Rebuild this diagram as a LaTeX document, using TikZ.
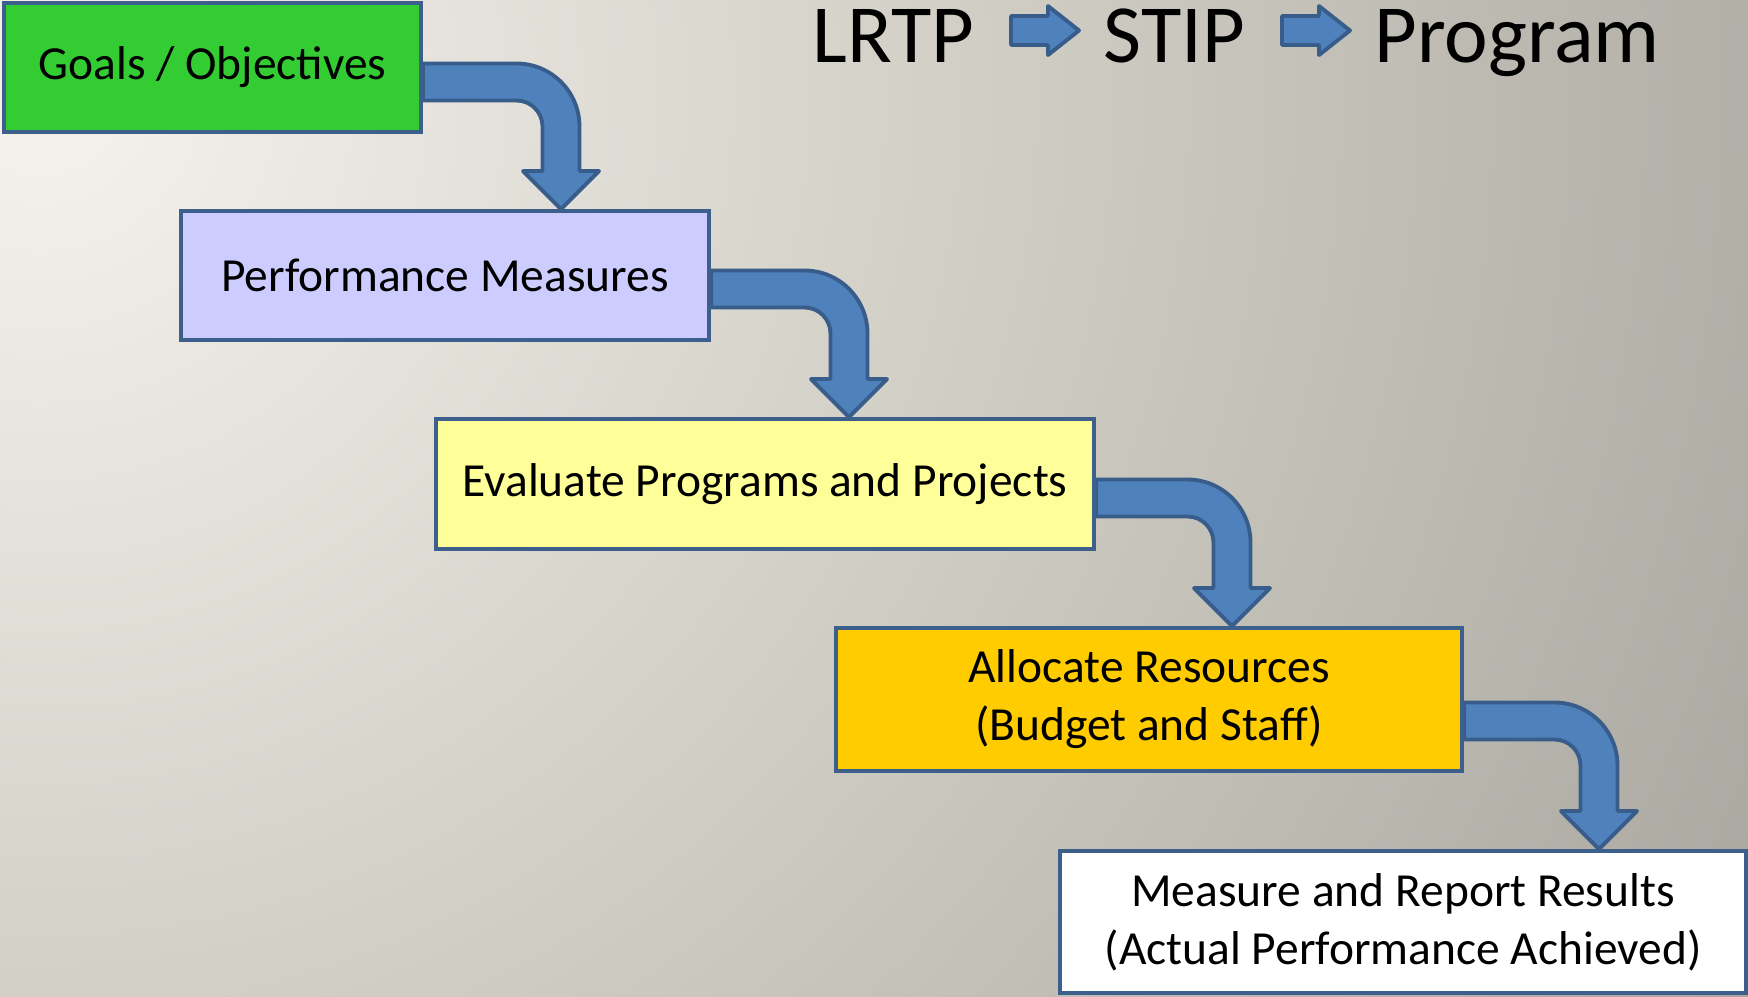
\documentclass[tikz,border=0pt]{standalone}
\usepackage{fontspec}
\setmainfont{Carlito}
\usetikzlibrary{calc}
\definecolor{bgA}{HTML}{F5F3EC}
\definecolor{bgB}{HTML}{D0CEC5}
\definecolor{bgC}{HTML}{A8A69E}
\definecolor{arrowfill}{HTML}{4F81BD}
\definecolor{arrowline}{HTML}{385D8A}
\definecolor{boxline}{HTML}{3C5F8C}
\definecolor{boxgreen}{HTML}{33CC33}
\definecolor{boxlav}{HTML}{CCCCFF}
\definecolor{boxyel}{HTML}{FFFF99}
\definecolor{boxgold}{HTML}{FFCC00}
\pgfdeclareradialshading{bgshade}{\pgfpoint{0bp}{0bp}}{color(0bp)=(bgA); color(12bp)=(bgB); color(25bp)=(bgC); color(50bp)=(bgC)}
\pgfdeclarelayer{bglayer}
\pgfsetlayers{bglayer,main}
\newcommand\bentarrowpath[3]{%
  \draw[bentshape] ($(#1)+(0,-18.5)$) -- ($(#2)+(-44.5,-18.5)$)
    .. controls ($(#2)+(-9.7,-18.5)$) and ($(#2)+(18.5,9.7)$) .. ($(#2)+(18.5,44.5)$)
    -- ($(#3)+(18.5,-38)$) -- ($(#3)+(38,-38)$) -- (#3) -- ($(#3)+(-38,-38)$)
    -- ($(#3)+(-18.5,-38)$) -- ($(#2)+(-18.5,44.5)$)
    .. controls ($(#2)+(-18.5,30.1)$) and ($(#2)+(-30.1,18.5)$) .. ($(#2)+(-44.5,18.5)$)
    -- ($(#1)+(0,18.5)$) -- cycle;}
\newcommand\titlearrowpath[1]{%
  \draw[bentshape] ($(#1)+(0,-14.5)$) -- ($(#1)+(37,-14.5)$) -- ($(#1)+(37,-24.5)$)
    -- ($(#1)+(68,0)$) -- ($(#1)+(37,24.5)$) -- ($(#1)+(37,14.5)$) -- ($(#1)+(0,14.5)$) -- cycle;}
\begin{document}
\begin{tikzpicture}[x=0.01cm,y=-0.01cm,
  stepbox/.style={draw=boxline, line width=1.1pt, inner sep=0pt, align=center,
    font=\fontsize{13.5pt}{16.5pt}\selectfont, text=black},
  bentshape/.style={fill=arrowfill, draw=arrowline, line width=1.1pt, line join=round},
  titletext/.style={anchor=base, inner sep=0pt, font=\fontsize{23.5pt}{28pt}\selectfont, text=black}]
\path[use as bounding box] (0,0) rectangle (1748,996);
\begin{pgfonlayer}{bglayer}
\begin{scope}
\clip (0,0) rectangle (1748,996);
\shade[shading=bgshade] (40,90) circle[radius=1950];
\end{scope}
\end{pgfonlayer}

% boxes
\node[stepbox, fill=boxgreen, minimum width=4.17cm, minimum height=1.29cm] (b1) at (212.5,67.5) {Goals / Objectives};
\node[stepbox, fill=boxlav, minimum width=5.28cm, minimum height=1.29cm] (b2) at (445,275.5) {Performance Measures};
\node[stepbox, fill=boxyel, minimum width=6.58cm, minimum height=1.30cm] (b3) at (765,484) {Evaluate Programs and Projects};
\node[stepbox, fill=boxgold, minimum width=6.26cm, minimum height=1.43cm] (b4) at (1149,699.5) {Allocate Resources\\(Budget and Staff)};
\node[stepbox, fill=white, minimum width=6.86cm, minimum height=1.42cm] (b5) at (1403,922) {Measure and Report Results\\(Actual Performance Achieved)};

% bend corners
\coordinate (K1) at (561,82);
\coordinate (K2) at (849,289);
\coordinate (K3) at (1232,498);
\coordinate (K4) at (1599,721);
\coordinate (S1) at (b1.east |- K1);
\coordinate (S2) at (b2.east |- K2);
\coordinate (S3) at (b3.east |- K3);
\coordinate (S4) at (b4.east |- K4);
\coordinate (T1) at (K1 |- b2.north);
\coordinate (T2) at (K2 |- b3.north);
\coordinate (T3) at (K3 |- b4.north);
\coordinate (T4) at (K4 |- b5.north);

\begin{pgfonlayer}{bglayer}
\bentarrowpath{S1}{K1}{T1}
\bentarrowpath{S2}{K2}{T2}
\bentarrowpath{S3}{K3}{T3}
\bentarrowpath{S4}{K4}{T4}
\end{pgfonlayer}

% title
\node[titletext] (lrtp) at (893.5,62) {LRTP};
\node[titletext] (stip) at (1174.5,62) {STIP};
\node[titletext] (prog) at (1517,62) {Program};
\coordinate (A1) at (1011,30.5);
\coordinate (A2) at (1282,30.5);
\titlearrowpath{A1}
\titlearrowpath{A2}
\end{tikzpicture}
\end{document}
